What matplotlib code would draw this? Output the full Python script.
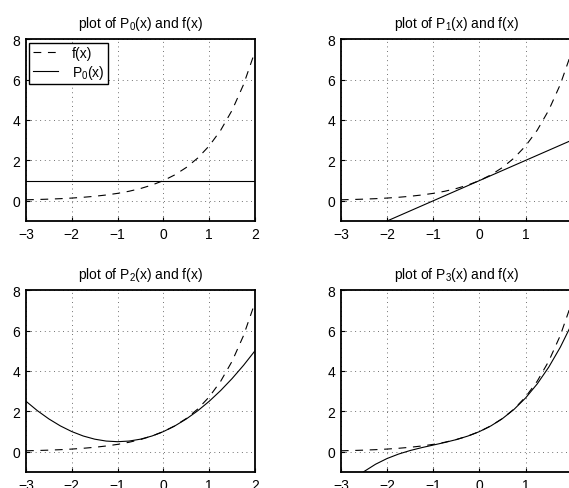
import matplotlib
matplotlib.use("Agg")
import matplotlib.pyplot as plt

plt.rcParams['font.family'] = ['Liberation Sans', 'DejaVu Sans']
plt.rcParams['mathtext.default'] = 'regular'

# sample points
x = [-3, -2.75, -2.5, -2.25, -2, -1.75, -1.5, -1.25, -1, -0.75, -0.5, -0.25,
     0, 0.25, 0.5, 0.75, 1, 1.25, 1.5, 1.75, 2]
f = [0.05, 0.064, 0.082, 0.105, 0.135, 0.174, 0.223, 0.287, 0.368, 0.472, 0.607, 0.779,
     1.0, 1.284, 1.649, 2.117, 2.718, 3.490, 4.482, 5.755, 7.389]
p0 = [1] * len(x)
p1 = [-2, -1.75, -1.5, -1.25, -1, -0.75, -0.5, -0.25, 0, 0.25, 0.5, 0.75,
      1, 1.25, 1.5, 1.75, 2, 2.25, 2.5, 2.75, 3]
p2 = [2.5, 2.031, 1.625, 1.281, 1.0, 0.781, 0.625, 0.531, 0.5, 0.531, 0.625, 0.781,
      1.0, 1.281, 1.625, 2.031, 2.5, 3.031, 3.625, 4.281, 5.0]
p3 = [-2.0, -1.435, -0.979, -0.617, -0.333, -0.112, 0.063, 0.206, 0.333, 0.461, 0.604, 0.779,
      1.0, 1.284, 1.646, 2.102, 2.667, 3.357, 4.188, 5.174, 6.333]

polys = [p0, p1, p2, p3]
xticks = [-3, -2, -1, 0, 1, 2]
yticks = [0, 2, 4, 6, 8]

fig = plt.figure(figsize=(5.69, 4.89), dpi=100)

# left, bottom, width, height (right column runs slightly past the figure edge)
rects = [
    [0.0457, 0.546, 0.4025, 0.372],
    [0.599, 0.546, 0.406, 0.372],
    [0.0457, 0.0327, 0.4025, 0.372],
    [0.599, 0.0327, 0.406, 0.372],
]

for i, (rect, p) in enumerate(zip(rects, polys)):
    ax = fig.add_axes(rect)
    lf, = ax.plot(x, f, color='black', lw=0.8, dashes=(7, 6))
    lp, = ax.plot(x, p, color='black', lw=0.8)
    ax.set_xlim(-3, 2)
    ax.set_ylim(-1, 8)
    ax.set_xticks(xticks)
    ax.set_yticks(yticks)
    ax.grid(True, color='0.25', linestyle=(0, (1, 4.5)), lw=0.6)
    ax.tick_params(direction='in', length=3, labelsize=10, pad=4, width=0.8)
    for s in ax.spines.values():
        s.set_linewidth(1.3)
    ax.set_title('plot of P$_%d$(x) and f(x)' % i, fontsize=10, pad=9)
    if i == 0:
        leg = ax.legend([lf, lp], ['f(x)', 'P$_0$(x)'], loc='upper left',
                        fontsize=10, frameon=True, fancybox=False,
                        borderpad=0.25, labelspacing=0.2, handlelength=1.8,
                        handletextpad=1.0, borderaxespad=0.25)
        leg.get_frame().set_edgecolor('black')
        leg.get_frame().set_linewidth(1.0)
        leg.get_frame().set_alpha(1)

fig.savefig('out.png', dpi=100)
